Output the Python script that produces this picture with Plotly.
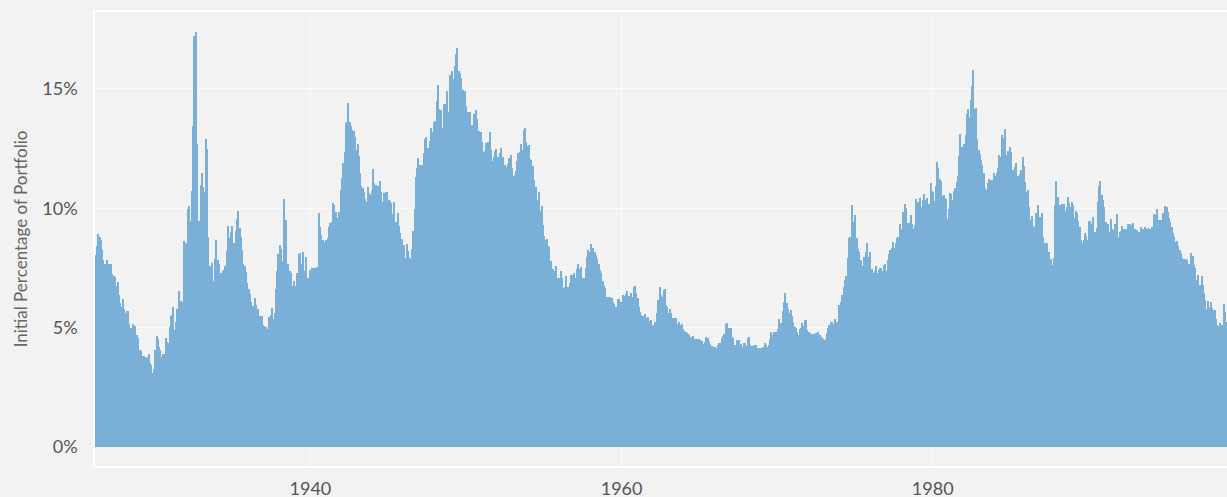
import pandas as pd
import plotly.graph_objects as go

# Monthly initial withdrawal percentage (%), starting March 1926
rates_1926_1936 = [8.04, 8.4, 8.9, 8.8, 8.65, 8.25, 7.83, 7.65, 7.55, 7.83,
    7.65, 7.55, 7.65, 7.23, 7.18, 7.1, 6.76, 6.9, 6.37, 6.02,
    5.85, 6.19, 5.77, 5.63, 5.7, 5.7, 5.15, 4.97, 4.97, 5.14,
    5.07, 4.69, 4.69, 4.55, 4.04, 4.02, 3.81, 3.81, 3.78, 3.74, 3.76,
    3.88, 3.53, 3.44, 3.09, 3.25, 4.06, 4.66, 4.51, 4.2, 4.06,
    3.78, 3.88, 3.88, 4.58, 4.41, 4.37, 5.04, 5.49, 5.53, 5.85,
    4.9, 5.25, 5.77, 6.55, 5.7, 6.12, 6.05, 8.63, 7.9, 8.56,
    9.96, 10.1, 9.47, 10.73, 13.46, 17.22, 17.37, 12.7, 9.16, 9.47,
    10.98, 11.47, 10.87, 10.7, 12.89, 12.47, 8.78, 7.58, 6.76, 7.7,
    6.96, 7.86, 8.67, 7.83, 7.65, 6.97, 7.28, 7.35, 7.4, 7.56, 8.21,
    9.26, 8.74, 8.99, 9.26, 8.56, 8.56, 9.06, 9.54, 9.9, 9.16,
    8.81, 8.25, 7.65, 7.56, 7.32, 6.86, 6.6, 6.41, 6.05, 5.92,
    5.77, 6.23]

rates_1936_1946 = [5.95, 5.77, 5.49, 5.49, 5.49, 5.11, 5.07, 5.04, 4.93, 4.9,
    5.46, 5.53, 5.81, 5.35, 5.63, 6.6, 7.37, 8.07, 8.46, 8.28,
    7.77, 10.38, 9.2, 9.51, 7.65, 7.16, 7.37, 7.28, 6.76, 6.97,
    6.76, 7.28, 7.0, 8.07, 8.11, 7.65, 8.16, 7.39, 7.95, 7.0,
    7.07, 7.42, 7.28, 7.49, 7.49, 7.49, 7.49, 7.53, 9.79, 9.2, 8.88,
    8.65, 8.6, 8.3, 8.65, 8.74, 9.23, 9.4, 9.41, 10.21, 10.14,
    9.86, 9.41, 9.61, 9.83, 10.77, 11.26, 11.91, 12.37, 13.56, 13.63,
    14.4, 13.63, 13.45, 13.28, 13.24, 13.0, 12.44, 12.68, 12.19, 11.47,
    10.91, 10.84, 10.67, 10.38, 10.28, 10.87, 10.63, 10.56, 10.74, 11.63,
    11.05, 10.98, 10.95, 10.91, 11.12, 10.7, 10.28, 10.63, 10.56, 10.66,
    10.66, 10.35, 10.31, 10.21, 9.75, 10.25, 9.44, 9.41, 9.82, 9.26,
    8.95, 8.7, 8.46, 8.46, 7.93, 8.49, 8.21, 7.97, 7.86, 8.28,
    9.06, 9.97, 11.3, 11.68]

rates_1946_1957 = [12.09, 11.82, 11.6, 11.82, 12.3, 12.89, 13.0, 12.51, 12.28, 12.82,
    13.38, 13.18, 13.63, 13.66, 14.51, 15.17, 14.15, 14.12, 13.14, 13.35,
    14.36, 14.36, 14.92, 14.05, 15.59, 15.2, 15.73, 15.41, 15.94, 16.47,
    16.73, 15.75, 15.66, 15.45, 14.96, 14.93, 14.93, 14.29, 14.05, 13.95, 14.01,
    13.49, 13.0, 13.95, 14.12, 13.73, 13.14, 13.24, 13.18, 12.79, 12.35,
    12.4, 12.72, 12.26, 12.77, 13.18, 12.42, 11.96, 12.14, 12.4, 12.47,
    12.14, 11.96, 12.33, 12.51, 12.16, 11.82, 11.82, 11.72, 11.86, 12.12, 12.23,
    11.68, 11.33, 11.4, 11.56, 11.96, 12.3, 12.37, 12.68, 12.44, 13.28,
    13.35, 12.79, 12.61, 12.63, 12.05, 12.03, 11.75, 11.19, 10.84, 10.87,
    10.35, 10.7, 9.89, 10.1, 9.3, 8.84, 8.67, 8.7, 8.42, 8.39,
    7.79, 7.39, 7.44, 7.39, 7.6, 7.09, 7.07, 7.07, 7.35, 7.09, 6.65,
    6.68, 7.14, 6.68, 6.68, 6.86, 7.21, 7.21, 7.28, 7.09, 7.44,
    7.65, 7.44]

rates_1957_1967 = [7.53, 7.07, 7.07, 7.07, 7.49, 7.95, 8.25, 8.16, 8.49, 8.21,
    8.35, 8.18, 8.04, 7.86, 7.65, 7.42, 7.28, 6.96, 6.76, 6.65,
    6.3, 6.3, 6.3, 6.3, 6.23, 6.05, 5.99, 5.85, 5.85, 6.19, 6.19,
    6.09, 5.91, 6.37, 6.33, 6.4, 6.55, 6.33, 6.33, 6.44, 6.3,
    6.68, 6.76, 6.44, 6.23, 5.85, 5.64, 5.53, 5.49, 5.39, 5.56,
    5.39, 5.46, 5.29, 5.32, 5.11, 5.11, 5.25, 5.25, 5.6, 6.16,
    6.72, 6.37, 6.3, 6.58, 6.6, 5.95, 5.88, 5.6, 5.77, 5.6,
    5.39, 5.28, 5.42, 5.42, 5.15, 5.25, 5.11, 5.14, 4.93, 4.87,
    4.83, 4.79, 4.73, 4.69, 4.62, 4.62, 4.65, 4.51, 4.51, 4.51, 4.51,
    4.46, 4.37, 4.44, 4.32, 4.41, 4.59, 4.55, 4.44, 4.32, 4.23,
    4.2, 4.2, 4.2, 4.16, 4.27, 4.37, 4.34, 4.55, 4.65, 4.73, 5.15,
    5.18, 4.97, 4.97, 4.97, 4.62, 4.55, 4.27, 4.27, 4.48, 4.46,
    4.27, 4.32]

rates_1967_1978 = [4.2, 4.34, 4.34, 4.23, 4.55, 4.59, 4.27, 4.23, 4.2, 4.27,
    4.27, 4.13, 4.13, 4.13, 3.99, 4.13, 4.2, 4.37, 4.27, 4.2, 4.27,
    4.51, 4.83, 4.69, 4.8, 4.69, 4.8, 4.93, 5.35, 5.15, 5.18,
    5.71, 6.06, 6.44, 6.02, 5.77, 5.63, 5.74, 5.49, 5.25, 5.04,
    4.97, 4.83, 4.69, 4.93, 4.97, 5.18, 5.07, 5.32, 5.32, 4.9,
    4.83, 4.76, 4.73, 4.73, 4.73, 4.69, 4.76, 4.8, 4.69, 4.69, 4.62,
    4.51, 4.46, 4.51, 4.76, 4.97, 5.11, 5.25, 5.25, 5.15, 5.36,
    5.25, 5.25, 5.95, 5.95, 6.05, 6.37, 6.72, 7.0, 7.18, 7.91,
    8.74, 8.81, 10.14, 8.84, 9.44, 9.72, 8.74, 8.28, 8.18, 7.83,
    7.56, 7.35, 7.97, 8.18, 8.56, 7.97, 8.18, 7.28, 7.44, 7.28,
    7.35, 7.56, 7.28, 7.4, 7.49, 7.51, 7.39, 7.63, 7.65, 7.39, 7.83,
    8.07, 8.25, 8.32, 8.6, 8.32, 8.56, 8.74, 8.81, 9.34, 9.12,
    9.12, 9.86]

rates_1978_1988 = [10.17, 10.0, 9.37, 9.37, 9.37, 9.72, 9.34, 9.13, 9.3, 10.38, 10.28,
    10.24, 10.42, 10.03, 10.35, 10.59, 10.35, 10.42, 10.03, 10.17, 11.05,
    10.73, 10.7, 10.31, 10.91, 11.93, 11.68, 11.22, 11.12, 10.52, 10.56,
    10.42, 10.39, 9.54, 9.97, 10.63, 10.59, 10.35, 10.73, 10.84, 11.09,
    11.33, 12.19, 13.1, 12.58, 12.21, 12.68, 13.07, 13.94, 14.16, 13.84,
    14.54, 15.14, 15.77, 14.15, 14.19, 12.9, 12.44, 12.26, 12.03, 11.82,
    11.49, 10.84, 10.77, 11.05, 11.22, 11.19, 11.19, 11.19, 11.47, 11.33, 11.47,
    11.68, 12.23, 12.16, 13.07, 12.93, 13.31, 12.12, 12.23, 12.4, 12.58,
    12.37, 11.61, 11.61, 11.72, 11.91, 11.37, 11.33, 11.44, 11.61, 12.14,
    11.75, 11.08, 10.7, 10.77, 10.03, 9.51, 9.68, 9.26, 9.2, 9.82,
    9.23, 10.14, 9.65, 9.51, 9.82, 8.78, 8.53, 8.39, 8.53, 8.18,
    7.86, 7.86, 7.63, 7.91, 10.14, 11.15, 10.49, 9.75, 10.14, 10.17,
    10.18, 10.18, 9.9]

rates_1988_1998 = [10.03, 10.46, 10.21, 10.03, 10.24, 10.14, 9.58, 9.9, 9.82, 9.47,
    9.23, 8.65, 8.53, 8.65, 8.95, 8.84, 8.67, 9.47, 9.47, 9.33,
    9.65, 8.88, 9.02, 9.16, 10.24, 10.95, 11.12, 10.56, 10.35, 10.04,
    9.44, 9.3, 9.33, 9.02, 9.54, 9.13, 9.09, 9.33, 9.23, 9.75,
    8.81, 9.02, 9.05, 9.27, 9.12, 9.12, 9.12, 9.33, 9.12, 9.34, 9.3,
    9.37, 9.12, 9.12, 9.09, 8.99, 9.02, 9.23, 9.12, 9.13, 9.2,
    8.99, 9.13, 9.16, 9.12, 8.92, 9.2, 9.76, 9.72, 9.65, 9.96,
    9.51, 9.51, 9.51, 9.79, 9.65, 10.1, 10.04, 9.86, 9.61, 9.44, 9.2,
    8.95, 8.81, 8.6, 8.63, 8.42, 8.25, 8.11, 7.93, 7.86, 7.86, 7.86,
    7.83, 7.67, 7.67, 8.11, 8.0, 7.63, 7.49, 7.0, 7.21, 6.79,
    6.79, 7.16, 6.79, 6.44, 6.16, 5.77, 6.12, 5.85, 6.09, 5.81,
    5.74, 5.74, 5.35, 5.11, 5.07, 5.18, 5.04, 5.11, 5.98, 5.64,
    5.25, 4.97]

rates = (rates_1926_1936 + rates_1936_1946 + rates_1946_1957 + rates_1957_1967
         + rates_1967_1978 + rates_1978_1988 + rates_1988_1998)

first_month = "1926-03-01"
months = pd.date_range(first_month, periods=len(rates), freq="MS") + pd.Timedelta(days=15)
month_ms = 30.44 * 24 * 3600 * 1000

y_ticks = [0, 5, 10, 15]
y_tick_text = ["0%", "5%", "10%", "15%"]

BG = "#f2f2f2"
BAR = "#7aafd7"

fig = go.Figure(go.Bar(
    x=months, y=rates,
    width=[month_ms] * len(rates),
    marker=dict(color=BAR, line=dict(width=0)),
    hovertemplate="%{x|%b %Y}: %{y:.1f}%<extra></extra>",
))

fig.update_layout(
    width=1227, height=497,
    margin=dict(l=95, r=0, t=12, b=31),
    paper_bgcolor=BG, plot_bgcolor=BG,
    bargap=0,
    showlegend=False,
    font=dict(family="Lato, 'Noto Sans', sans-serif", color="#555555"),
)

fig.update_xaxes(
    type="date",
    range=["1926-02-26", "1998-12-01"],
    tick0="1940-01-01", dtick="M240", tickformat="%Y",
    showgrid=True, gridcolor="#fafafa", gridwidth=1,
    showline=True, linecolor="#ffffff", linewidth=1.5, mirror=True,
    ticks="outside", ticklen=6, tickcolor=BG,
    tickfont=dict(size=18, color="#555555"),
    zeroline=False, automargin=False,
)

fig.update_yaxes(
    range=[-0.8, 18.22],
    tickvals=y_ticks, ticktext=y_tick_text,
    showgrid=True, gridcolor="#fafafa", gridwidth=1,
    showline=True, linecolor="#ffffff", linewidth=1.5, mirror=True,
    ticks="outside", ticklen=12, tickcolor=BG,
    tickfont=dict(size=18, color="#555555"),
    zeroline=False, automargin=False,
    title=dict(text="Initial Percentage of Portfolio",
               font=dict(size=17, color="#666666"), standoff=10),
)

page_css = ("document.body.style.margin='0';"
            "document.body.style.background='#f2f2f2';"
            "document.documentElement.style.background='#f2f2f2';")

fig.write_html("out.html", post_script=page_css, config={"displayModeBar": False})
